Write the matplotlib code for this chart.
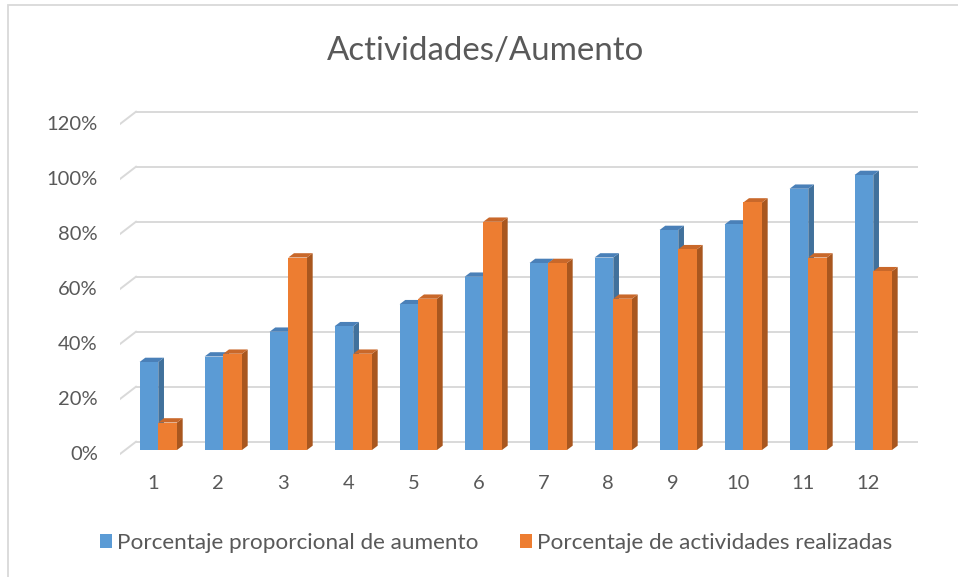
import matplotlib
matplotlib.use("Agg")
import matplotlib.pyplot as plt
import matplotlib.transforms as mtransforms
from matplotlib.patches import Polygon, Rectangle, Patch

plt.rcParams['font.family'] = ['Lato', 'DejaVu Sans']

categorias = [1, 2, 3, 4, 5, 6, 7, 8, 9, 10, 11, 12]
aumento = [32, 34, 43, 45, 53, 63, 68, 70, 80, 82, 95, 100]
actividades = [10, 35, 70, 35, 55, 83, 68, 55, 73, 90, 70, 65]
ticks_y = [0, 20, 40, 60, 80, 100, 120]
nombres = ['Porcentaje proporcional de aumento', 'Porcentaje de actividades realizadas']

azul = ('#5b9bd5', '#41719c', '#4a80b8')
naranja = ('#ed7d31', '#a9571f', '#c9682a')
gris_texto = '#595959'
gris_linea = '#d9d9d9'

W, H = 958, 577
fig = plt.figure(figsize=(W / 100, H / 100), dpi=100)

# marco del grafico
fig.patches.append(Rectangle((8 / W, -0.02), 1.0, (H - 5) / H + 0.02,
                             transform=fig.transFigure, fill=False,
                             edgecolor=gris_linea, linewidth=1.3, clip_on=False))

ax = fig.add_axes([120 / W, (H - 456) / H, (918 - 120) / W, (456 - 100) / H])
ax.set_xlim(0.411, 12.688)
ax.set_ylim(-6 / 2.75, 350 / 2.75)
for s in ax.spines.values():
    s.set_visible(False)

# factores pixel -> datos
px_x = (ax.get_xlim()[1] - ax.get_xlim()[0]) / ax.bbox.width
px_y = (ax.get_ylim()[1] - ax.get_ylim()[0]) / ax.bbox.height

x0 = ax.get_xlim()[0]
x1 = ax.get_xlim()[1]
# rejilla en la pared del fondo con su diagonal hacia el frente
for v in ticks_y:
    yb = v + 8.3 * px_y
    yf = v - 4 * px_y
    ax.plot([x0 + 16 * px_x, x1], [yb, yb], color=gris_linea, lw=1.4, zorder=1)
    ax.plot([x0, x0 + 16 * px_x], [yf, yb], color=gris_linea, lw=1.4, zorder=1)

ancho = 18.7 * px_x
dx = 5.7 * px_x
dy = 4.3 * px_y


def barras_3d(xs, vals, colores, z):
    frente, lado, tapa = colores
    ax.bar(xs, vals, width=ancho, align='edge', color=frente, zorder=z + 1,
           linewidth=0)
    for x, v in zip(xs, vals):
        ax.add_patch(Polygon([(x + ancho, 0), (x + ancho + dx, dy),
                              (x + ancho + dx, v + dy), (x + ancho, v)],
                             closed=True, facecolor=lado, linewidth=0, zorder=z))
        ax.add_patch(Polygon([(x, v), (x + ancho, v), (x + ancho + dx, v + dy),
                              (x + dx, v + dy)],
                             closed=True, facecolor=tapa, linewidth=0, zorder=z))


barras_3d([c - ancho for c in categorias], aumento, azul, 2)
barras_3d(list(categorias), actividades, naranja, 4)

ax.set_yticks([v - 3 * px_y for v in ticks_y])
ax.set_yticklabels([f'{v}%' for v in ticks_y])
ax.set_xticks(categorias)
ax.set_xticklabels([str(c) for c in categorias])
ax.tick_params(axis='y', length=0, pad=16, labelsize=14.5, labelcolor=gris_texto)
ax.tick_params(axis='x', length=0, pad=14, labelsize=14.5, labelcolor=gris_texto)
desplaza = mtransforms.ScaledTranslation(-5 / 100, 0, fig.dpi_scale_trans)
for lab in ax.get_xticklabels():
    lab.set_transform(lab.get_transform() + desplaza)

fig.text(486 / W, 1 - 51 / H, 'Actividades/Aumento', ha='center', va='center',
         fontsize=23.8, color=gris_texto)

manejadores = [Patch(facecolor=azul[0]), Patch(facecolor=naranja[0])]
fig.legend(manejadores, nombres, loc='center', bbox_to_anchor=(496 / W, 1 - 543 / H),
           ncol=2, frameon=False, fontsize=16.2, labelcolor=gris_texto,
           handlelength=0.55, handleheight=0.55, handletextpad=0.2,
           columnspacing=1.85)

fig.savefig('out.png', dpi=100, facecolor='white')
